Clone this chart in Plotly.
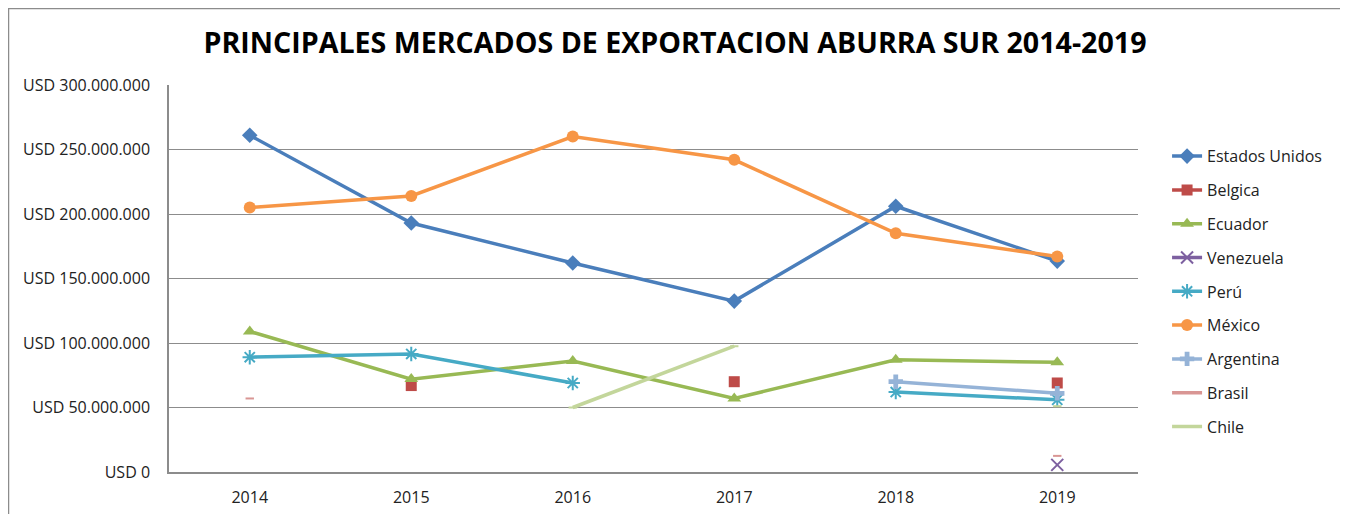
import plotly.graph_objects as go

years = ["2014", "2015", "2016", "2017", "2018", "2019"]

estados_unidos = [261e6, 193e6, 162e6, 132.5e6, 206e6, 163.5e6]
belgica = [None, 67e6, None, 70e6, None, 69e6]
ecuador = [109e6, 72e6, 86e6, 57e6, 87e6, 85e6]
venezuela = [None, None, None, None, None, 5.5e6]
peru = [89e6, 91.5e6, 69e6, None, 62e6, 56e6]
mexico = [205e6, 214e6, 260e6, 242e6, 185e6, 167e6]
argentina = [None, None, None, None, 70e6, 61e6]
brasil = [57e6, None, None, None, None, 12.5e6]
chile = [None, None, 50e6, 97.5e6, None, 51e6]

series = [
    ("Estados Unidos", estados_unidos, "#4A7EBB", "diamond", 12),
    ("Belgica", belgica, "#BE4B48", "square", 11),
    ("Ecuador", ecuador, "#98B954", "triangle-up", 12),
    ("Venezuela", venezuela, "#7D60A0", "x-thin-open", 12),
    ("Perú", peru, "#46AAC5", "asterisk-open", 12),
    ("México", mexico, "#F79646", "circle", 12),
    ("Argentina", argentina, "#95B3D7", "cross", 12),
    ("Brasil", brasil, "#D99694", "line-ew-open", 6),
    ("Chile", chile, "#C3D69B", "line-ew-open", 6),
]

fig = go.Figure()
for i, (name, vals, color, sym, size) in enumerate(series):
    fig.add_trace(go.Scatter(
        x=years, y=vals, name=name, mode="lines+markers",
        connectgaps=False, legendgroup=f"g{i}",
        line=dict(color=color, width=3.5),
        marker=dict(symbol=sym, size=size, color=color,
                    line=dict(color=color, width=2 if "open" in sym else 0)),
    ))

# page body adds an 8px offset; margins compensate
L, R, T, B = 161, 218, 77, 50
plot_w = 1348 - L - R
plot_h = 514 - T - B

fig.update_layout(
    width=1348, height=514,
    paper_bgcolor="white", plot_bgcolor="white",
    margin=dict(l=L, r=R, t=T, b=B),
    separators=",.",
    font=dict(family="Open Sans", size=16, color="#222222"),
    title=dict(text="<b>PRINCIPALES MERCADOS DE EXPORTACION ABURRA SUR 2014-2019</b>",
               x=667 / 1348, xref="container", xanchor="center", y=1 - 35 / 514, yanchor="middle",
               font=dict(family="Open Sans", size=28.6, color="#000000")),
    showlegend=True,
    legend=dict(x=1.030, xanchor="left", y=0.86, yanchor="top",
                tracegroupgap=10, font=dict(size=16, color="#222222"),
                bgcolor="rgba(0,0,0,0)"),
    shapes=[dict(type="rect", xref="paper", yref="paper",
                 x0=(0.5 - L) / plot_w, x1=(1335 - L) / plot_w,
                 y0=-0.3, y1=(plot_h + T - 0.5) / plot_h,
                 line=dict(color="#8C8C8C", width=1.5), fillcolor="rgba(0,0,0,0)",
                 layer="below")],
)

fig.update_xaxes(type="category", range=[-0.5, 5.5], showgrid=False, showline=True,
                 linecolor="#8C8C8C", linewidth=1.5, ticks="", ticklabelstandoff=10,
                 tickfont=dict(size=16))
fig.update_yaxes(range=[0, 300e6], dtick=50e6, tickprefix="USD ", tickformat=",d",
                 showgrid=True, gridcolor="#8C8C8C", gridwidth=1.2,
                 showline=True, linecolor="#8C8C8C", linewidth=1.5,
                 zeroline=False, ticks="", ticklen=0, ticklabelstandoff=14,
                 tickfont=dict(size=16))

fig.write_html("out.html")
